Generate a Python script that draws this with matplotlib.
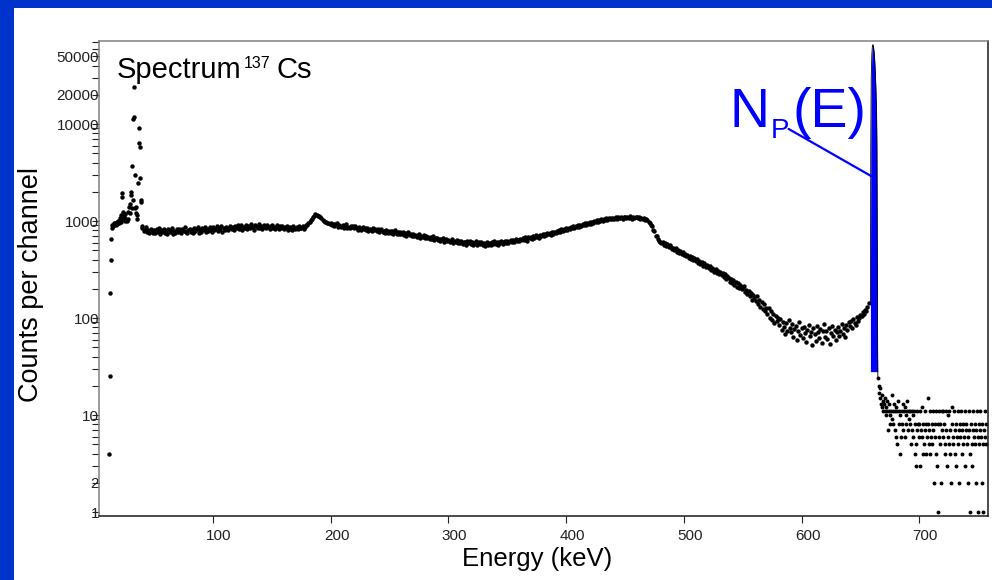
import numpy as np
import matplotlib
matplotlib.use("Agg")
import matplotlib.pyplot as plt
import matplotlib.transforms as mtransforms
from matplotlib.patches import Rectangle
from matplotlib.ticker import FixedLocator, LogLocator, NullFormatter, FuncFormatter

plt.rcParams['font.family'] = ['Liberation Sans', 'DejaVu Sans']

# ---- data ----
# low energy threshold + Ba K x-rays
xray_energy = [11.8, 12.2, 12.6, 13.0, 13.4, 13.8, 14.4, 15.0, 15.6, 16.2,
               16.8, 17.4, 18.0, 18.6, 19.2, 19.8, 20.4, 21.0, 21.6, 22.2,
               22.6, 23.0, 23.4, 23.8, 24.4, 25.0, 25.6, 26.2, 26.8, 27.4,
               28.0, 28.6, 29.2, 29.6, 30.1, 30.6, 31.0, 31.4, 31.9, 32.3,
               32.6, 33.0, 33.5, 33.8, 34.3, 34.8, 35.2, 35.8, 36.5, 37.1,
               37.4, 37.8, 38.2, 38.6, 39.0, 39.4]
xray_counts = [4, 25, 180, 400, 660, 850, 920, 880, 950, 900,
               960, 910, 980, 930, 1010, 950, 1000, 1080, 970, 1150,
               1930, 1770, 1250, 1050, 1120, 1000, 1180, 1060, 990, 1250,
               1050, 1400, 1200, 1500, 1980, 1840, 1370, 3700, 1650, 11400,
               24000, 11700, 2960, 1370, 1200, 1400, 1050, 1150, 2450, 6300,
               9000, 5800, 2800, 1650, 1580, 880]

# Compton continuum, one value per keV (40 .. 470)
cont_energy = np.arange(40, 471)
cont_counts = [851, 784, 806, 869, 772, 815, 748, 833, 797, 761,
               812, 745, 826, 779, 851, 738, 804, 770, 832, 757,
               796, 741, 829, 768, 811, 852, 733, 790, 758, 821,
               764, 837, 801, 746, 819, 782, 858, 769, 744, 812,
               831, 772, 808, 753, 846, 789, 822, 867, 761, 803,
               779, 842, 806, 871, 768, 825, 793, 858, 814, 762,
               864, 801, 837, 879, 792, 851, 818, 886, 776, 843,
               812, 878, 839, 801, 894, 857, 823, 872, 806, 889,
               841, 903, 829, 866, 917, 815, 878, 847, 905, 836,
               892, 838, 921, 859, 874, 812, 907, 866, 843, 928,
               851, 897, 829, 914, 868, 842, 903, 876, 818, 889,
               906, 847, 872, 831, 915, 858, 823, 884, 849, 896,
               827, 874, 842, 889, 815, 863, 836, 801, 879, 848,
               818, 866, 832, 879, 841, 852, 888, 829, 871, 905,
               915, 958, 981, 1030, 1058, 1102, 1125, 1168, 1150, 1139,
               1118, 1092, 1075, 1031, 1012, 987, 979, 951, 962, 928,
               948, 902, 936, 889, 921, 951, 877, 914, 893, 868,
               901, 857, 893, 924, 846, 878, 839, 897, 861, 882,
               839, 881, 852, 817, 869, 844, 808, 861, 826, 851,
               812, 847, 798, 836, 809, 781, 842, 803, 825, 788,
               819, 772, 804, 831, 766, 795, 758, 812, 781, 749,
               792, 751, 788, 736, 779, 812, 743, 765, 729, 771,
               731, 769, 718, 752, 704, 741, 762, 713, 738, 698,
               736, 695, 724, 681, 712, 743, 676, 705, 689, 716,
               671, 703, 662, 689, 648, 681, 657, 694, 643, 668,
               672, 634, 659, 621, 648, 667, 614, 639, 652, 618,
               641, 603, 627, 651, 596, 619, 608, 638, 589, 622,
               592, 624, 581, 611, 603, 572, 617, 594, 628, 579,
               608, 571, 594, 619, 563, 589, 602, 577, 612, 566,
               597, 558, 584, 611, 572, 592, 565, 603, 579, 618,
               581, 607, 569, 613, 592, 624, 578, 601, 616, 588,
               629, 596, 618, 641, 603, 633, 612, 651, 624, 638,
               622, 659, 637, 668, 645, 679, 651, 627, 683, 662,
               689, 656, 698, 675, 714, 681, 702, 668, 721, 694,
               731, 696, 742, 713, 756, 727, 748, 719, 771, 738,
               779, 748, 791, 763, 808, 776, 819, 789, 831, 802,
               841, 806, 857, 829, 868, 841, 884, 853, 897, 866,
               903, 871, 918, 889, 934, 902, 948, 917, 962, 929,
               971, 932, 986, 954, 1001, 969, 1017, 981, 1028, 994,
               1038, 997, 1052, 1019, 1063, 1031, 1074, 1042, 1081, 1049,
               1086, 1043, 1094, 1061, 1102, 1068, 1079, 1113, 1057, 1092,
               1109, 1064, 1098, 1072, 1117, 1081, 1059, 1104, 1076, 1096,
               1112, 1071, 1093, 1058, 1086, 1049, 1070, 1033, 1041, 1016,
               985]

# Compton edge down to the valley (471 .. 657)
edge_energy = np.arange(471, 658)
edge_counts = [962, 908, 884, 803, 781, 709, 694, 648, 619, 611,
               587, 612, 571, 596, 552, 578, 538, 563, 546, 519,
               531, 498, 524, 481, 507, 472, 493, 458, 479, 446,
               462, 431, 449, 414, 436, 409, 421, 398, 416, 387,
               402, 371, 385, 359, 378, 347, 370, 353, 336, 349,
               327, 344, 311, 331, 318, 299, 322, 291, 307, 284,
               301, 276, 289, 264, 282, 251, 271, 259, 238, 252,
               231, 249, 219, 237, 211, 228, 203, 221, 197, 209,
               213, 184, 196, 175, 191, 168, 183, 154, 172, 161,
               149, 167, 138, 155, 131, 146, 124, 139, 117, 128,
               109, 126, 101, 118, 96, 111, 89, 104, 93, 99,
               84, 97, 76, 91, 81, 68, 88, 74, 95, 79,
               71, 86, 63, 77, 82, 59, 74, 90, 67, 78,
               62, 81, 70, 56, 76, 84, 65, 72, 53, 79,
               68, 58, 83, 71, 62, 77, 55, 74, 86, 64,
               73, 61, 79, 54, 70, 82, 66, 76, 59, 72,
               80, 65, 74, 87, 69, 78, 63, 84, 75, 91,
               82, 93, 78, 97, 88, 85, 103, 94, 99, 108,
               104, 115, 109, 121, 117, 131, 144]

# 662 keV photopeak
peak_energy = [658.5, 658.8, 659.2, 659.7, 660.2, 660.7, 661.2, 661.7, 662.2,
               662.7, 663.2, 663.7, 664.0, 664.2, 664.4, 664.6, 664.8]
peak_counts = [140, 6000, 30000, 52000, 64000, 66000, 61000, 54000, 44000,
               33000, 22000, 13000, 6000, 1500, 250, 45, 24]
peak_base = 28

# above the peak (every 0.5 keV)
tail_energy = np.arange(665.0, 757.5, 0.5)
tail_counts = [24, 20, 17, 19, 15, 13, 16, 12, 14, 11,
               13, 11, 15, 10, 12, 11, 14, 7, 11, 13,
               10, 8, 11, 16, 9, 11, 8, 13, 7, 11,
               12, 6, 11, 5, 14, 8, 11, 4, 10, 6,
               11, 8, 13, 7, 11, 6, 12, 10, 8, 11,
               14, 7, 11, 9, 8, 11, 5, 11, 7, 10,
               6, 11, 4, 8, 5, 3, 7, 11, 8, 6,
               8, 3, 11, 7, 6, 12, 8, 4, 5, 7,
               11, 4, 8, 6, 15, 8, 5, 7, 4, 11,
               6, 8, 5, 11, 7, 2, 6, 8, 4, 11,
               3, 8, 1, 11, 6, 5, 8, 2, 11, 7,
               6, 11, 8, 5, 4, 7, 11, 3, 6, 10,
               5, 11, 4, 7, 2, 8, 12, 6, 5, 11,
               7, 4, 3, 8, 6, 5, 11, 7, 2, 8,
               6, 11, 4, 7, 5, 8, 6, 11, 3, 7,
               8, 5, 6, 2, 11, 7, 4, 1, 8, 5,
               3, 7, 11, 6, 8, 5, 2, 7, 11, 6,
               1, 8, 5, 7, 11, 6, 2, 8, 5, 1,
               7, 11, 6, 8, 5]

x_ticks = [100, 200, 300, 400, 500, 600, 700]
y_ticks = [1, 2, 10, 100, 1000, 10000, 20000, 50000]

# ---- figure ----
W, H = 992, 580
fig = plt.figure(figsize=(W / 100, H / 100), dpi=100, facecolor='#0033cc')
fig.add_artist(Rectangle((14 / W, 0), 1, 572 / H, transform=fig.transFigure,
                         facecolor='white', edgecolor='none', zorder=-1))

ax = fig.add_axes([99 / W, 1 - 516 / H, 889 / W, 475.3 / H])
ax.set_yscale('log')

# main spectrum: dense band of channels
band_e = np.concatenate([xray_energy, cont_energy, edge_energy])
band_c = np.concatenate([xray_counts, cont_counts, edge_counts])
ax.plot(band_e, band_c, 'o', ms=3.2, color='black', mew=0, linestyle='none')
ax.plot(tail_energy, tail_counts, 'o', ms=2.8, color='black', mew=0, linestyle='none')

ax.fill_between(peak_energy, peak_counts, peak_base, color='#0000ff', lw=0, zorder=3)
ax.plot(peak_energy, peak_counts, color='black', lw=0.6, zorder=4)

ax.set_xlim(3.1, 758.4)
ax.set_ylim(0.91, 72300)

ax.set_xticks(x_ticks)
ax.xaxis.set_minor_locator(FixedLocator([]))
ax.yaxis.set_major_locator(FixedLocator(y_ticks))
ax.yaxis.set_major_formatter(FuncFormatter(lambda v, p: '%d' % v))
ax.yaxis.set_minor_locator(LogLocator(base=10, subs=range(2, 10), numticks=20))
ax.yaxis.set_minor_formatter(NullFormatter())

ax.tick_params(axis='x', which='major', direction='out', length=5, width=0.8,
               pad=4, labelsize=11, colors='#222222')
ax.tick_params(axis='y', which='both', direction='out', length=5, width=0.8,
               pad=-5, labelsize=11, colors='#222222')

# tick labels sit a little to the right of their ticks in the original
shift = mtransforms.ScaledTranslation(6 / 100, 0, fig.dpi_scale_trans)
for lab in ax.xaxis.get_majorticklabels():
    lab.set_transform(lab.get_transform() + shift)

for side in ['top', 'left']:
    ax.spines[side].set_color('#808080')
for side in ['bottom', 'right']:
    ax.spines[side].set_color('#1a1a1a')
for s in ax.spines.values():
    s.set_linewidth(1.1)

ax.set_xlabel('Energy (keV)', fontsize=18.5)
ax.xaxis.set_label_coords((537 - 99) / 889, (516 - 547) / 475)
ax.set_ylabel('Counts per channel', fontsize=19.5)
ax.yaxis.set_label_coords((44 - 99) / 889, (516 - 285) / 475)

def px(x, y):
    return x / W, 1 - y / H

# "Spectrum 137Cs"
fig.text(*px(117, 78.3), 'Spectrum', fontsize=21, va='baseline', ha='left')
fig.text(*px(244, 67.7), '137', fontsize=11.5, va='baseline', ha='left')
fig.text(*px(277, 78.3), 'Cs', fontsize=21, va='baseline', ha='left')

# N_P(E) label for the photopeak
fig.text(*px(730, 127), 'N', fontsize=40, color='#0000ff', va='baseline', ha='left')
fig.text(*px(771, 137.7), 'P', fontsize=20, color='#0000ff', va='baseline', ha='left')
fig.text(*px(793, 127), '(E)', fontsize=40, color='#0000ff', va='baseline', ha='left')
ax.annotate('', xy=(659.3, 2900), xytext=(589, 8900),
            arrowprops=dict(arrowstyle='-', color='#0000ff', lw=1.6,
                            shrinkA=0, shrinkB=0), zorder=5)

fig.savefig('out.png', dpi=100, facecolor=fig.get_facecolor())
